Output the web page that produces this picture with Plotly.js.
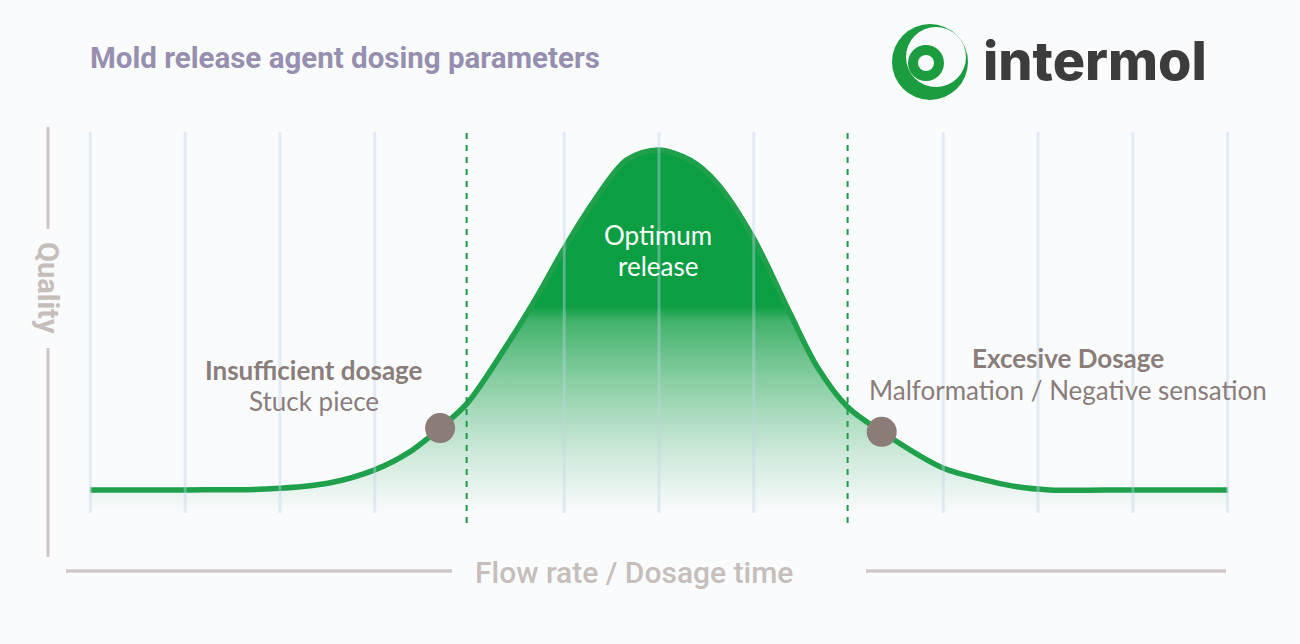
<!DOCTYPE html>
<html>
<head>
<meta charset="utf-8">
<script src="https://cdn.plot.ly/plotly-3.0.1.min.js"></script>
<style>html,body{margin:0;padding:0;background:#fafbfd;}</style>
</head>
<body>
<div id="chart" style="width:1300px;height:644px;"></div>
<script>
// ---- data (x: flow rate / dosage time in grid units, y: quality %) ----
const flowX = [0, 1, 1.9, 2.53, 3.0, 3.37, 3.69, 3.98, 4.43, 4.71, 4.99, 5.30, 5.66, 5.99, 6.33, 6.61, 6.99, 7.38, 7.67, 7.99, 8.35, 8.99, 9.49, 9.78, 10.12, 11, 12];
const qualityY = [0, 0, 0.3, 2.1, 5.9, 11.2, 18.2, 25.6, 44.1, 56.8, 70.6, 84.4, 97.1, 100, 97, 90.3, 74.4, 52.1, 36.2, 24.4, 17.1, 6.5, 2.6, 0.9, 0, 0, 0];
const markerX = [3.69, 8.35];
const markerY = [18.2, 17.1];
const thresholdX = [3.97, 7.99];
const gridX = [0, 1, 2, 3, 5, 6, 7, 9, 10, 11, 12];
const xRange = [-0.5, 12.5];
const yRange = [-6.8, 105.3];

// ---- texts ----
const titleText = 'Mold release agent dosing parameters';
const xTitle = 'Flow rate / Dosage time';
const yTitle = 'Quality';
const leftHead = 'Insufficient dosage', leftSub = 'Stuck piece';
const rightHead = 'Excesive Dosage', rightSub = 'Malformation / Negative sensation';
const midLines = ['Optimum', 'release'];
const brand = 'intermol';

// ---- layout helpers (pixel -> paper) ----
const W = 1300, H = 644, ML = 43, MR = 25, MT = 132, MB = 131;
const PW = W - ML - MR, PH = H - MT - MB;
const px = v => (v - ML) / PW;
const py = v => (H - MB - v) / PH;

const BG = '#fafbfd';
const GREEN = '#1fa04b';
const TAUPE = '#8a7d7a';
const AXC = '#cfc8c6';
const AXT = '#c6bebb';

const traces = [
  {x: [xRange[0] + 0.5, xRange[1] - 0.5], y: [yRange[0], yRange[0]], mode: 'lines',
   line: {width: 0, color: 'rgba(0,0,0,0)'}, hoverinfo: 'skip', showlegend: false},
  {x: flowX, y: qualityY, mode: 'lines', fill: 'tonexty',
   line: {color: GREEN, width: 5.5, shape: 'spline', smoothing: 0.9},
   fillgradient: {type: 'vertical', start: yRange[0], stop: 54,
     colorscale: [[0, 'rgba(20,160,70,0)'], [0.3, 'rgba(20,160,70,0.2)'], [0.65, 'rgba(20,160,70,0.5)'], [0.93, 'rgba(20,160,70,0.8)'], [1, 'rgb(12,158,67)']]},
   showlegend: false, hoverinfo: 'skip'},
  {x: markerX, y: markerY, mode: 'markers',
   marker: {size: 30, color: '#8b7c78'}, showlegend: false, hoverinfo: 'skip'}
];

const shapes = [];
// light grid lines above the fill
gridX.forEach(g => shapes.push({type: 'line', xref: 'x', yref: 'paper', x0: g, x1: g, y0: 0, y1: 1,
  line: {color: 'rgba(190,212,236,0.4)', width: 3}, layer: 'above'}));
// threshold dashed lines
thresholdX.forEach(t => shapes.push({type: 'line', xref: 'x', yref: 'paper', x0: t, x1: t, y0: py(523), y1: py(130),
  line: {color: '#1f9a4a', width: 2, dash: '6px,6px'}, layer: 'above'}));
// axis decorations
shapes.push({type: 'line', xref: 'paper', yref: 'paper', x0: px(48), x1: px(48), y0: py(127), y1: py(229), line: {color: AXC, width: 3}});
shapes.push({type: 'line', xref: 'paper', yref: 'paper', x0: px(48), x1: px(48), y0: py(348), y1: py(557), line: {color: AXC, width: 3}});
shapes.push({type: 'line', xref: 'paper', yref: 'paper', x0: px(66), x1: px(452), y0: py(571), y1: py(571), line: {color: AXC, width: 3.5}});
shapes.push({type: 'line', xref: 'paper', yref: 'paper', x0: px(866), x1: px(1226), y0: py(571), y1: py(571), line: {color: AXC, width: 3.5}});
// logo swirl
function circ(cx, cy, r, col) {
  shapes.push({type: 'circle', xref: 'paper', yref: 'paper', x0: px(cx - r), x1: px(cx + r), y0: py(cy + r), y1: py(cy - r),
    fillcolor: col, line: {width: 0}, layer: 'above'});
}
circ(930, 62, 38, '#1b9c3f');
circ(936, 57, 30, BG);
circ(926, 63, 18, '#1b9c3f');
circ(926, 63, 8, BG);

const ann = (t, x, y, o) => Object.assign({text: t, xref: 'paper', yref: 'paper', x: px(x), y: py(y),
  xanchor: 'center', yanchor: 'middle', showarrow: false}, o);

const annotations = [
  ann(yTitle, 48, 288, {textangle: 90, font: {family: 'Roboto', size: 29, weight: 700, color: AXT}}),
  ann(xTitle, 634, 572, {font: {family: 'Roboto', size: 30, weight: 500, color: AXT}}),
  ann(leftHead, 314, 370, {font: {family: 'Lato', size: 26, weight: 700, color: TAUPE}}),
  ann(leftSub, 314, 401, {font: {family: 'Lato', size: 26, color: TAUPE}}),
  ann(rightHead, 1068, 358, {font: {family: 'Lato', size: 26, weight: 700, color: TAUPE}}),
  ann(rightSub, 1068, 390, {font: {family: 'Lato', size: 26, color: TAUPE}}),
  ann(midLines[0], 658, 235, {font: {family: 'Lato', size: 26, color: '#ffffff'}}),
  ann(midLines[1], 658, 266, {font: {family: 'Lato', size: 26, color: '#ffffff'}}),
  ann(brand, 981, 61, {xanchor: 'left', font: {family: 'Inter', size: 54, weight: 800, color: '#3d3c3d'}})
];

const layout = {
  width: W, height: H,
  paper_bgcolor: BG, plot_bgcolor: BG,
  margin: {l: ML, r: MR, t: MT, b: MB},
  title: {text: titleText, xref: 'container', yref: 'container', x: 90 / W, xanchor: 'left', y: 1 - 58 / H, yanchor: 'middle',
    font: {family: 'Roboto', size: 29.5, weight: 700, color: '#978fb0'}},
  xaxis: {range: xRange, showgrid: false, zeroline: false, showticklabels: false, ticks: '', showline: false, fixedrange: true},
  yaxis: {range: yRange, showgrid: false, zeroline: false, showticklabels: false, ticks: '', showline: false, fixedrange: true},
  shapes: shapes,
  annotations: annotations,
  showlegend: false
};

Plotly.newPlot('chart', traces, layout, {displayModeBar: false, staticPlot: true});
</script>
</body>
</html>
